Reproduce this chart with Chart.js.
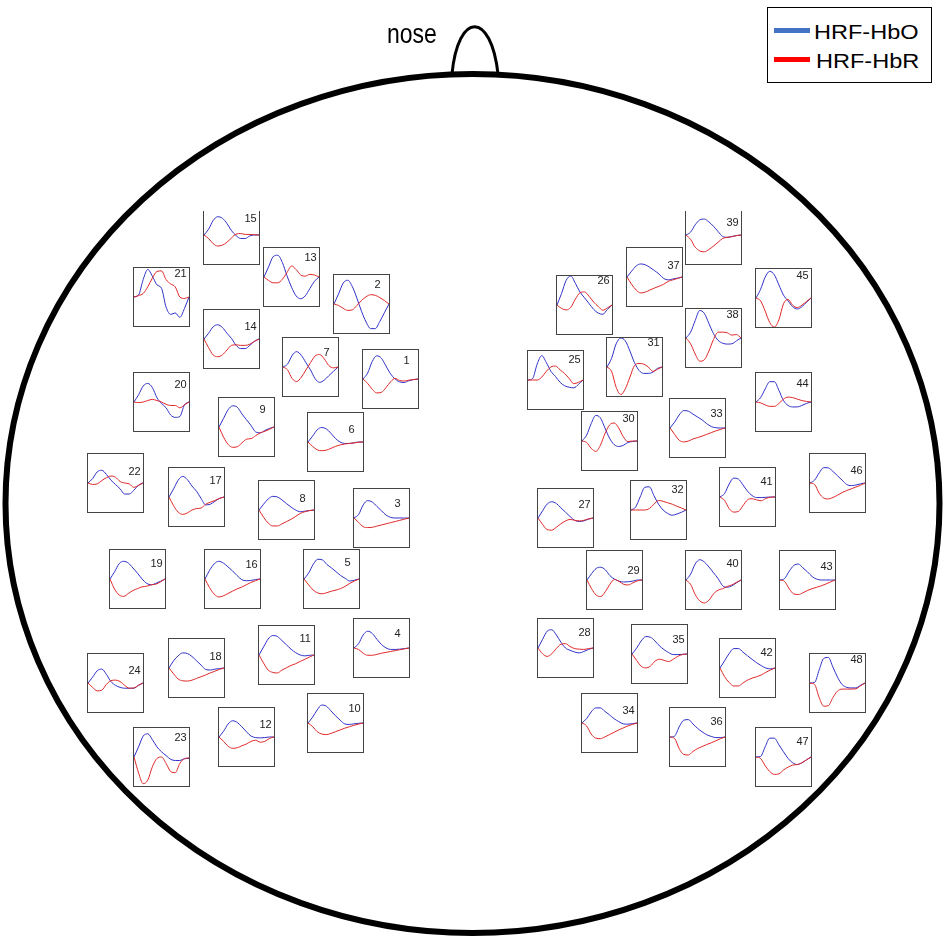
<!DOCTYPE html>
<html>
<head>
<meta charset="utf-8">
<script src="https://cdn.jsdelivr.net/npm/chart.js@4/dist/chart.umd.min.js"></script>
<style>
html,body{margin:0;padding:0;background:#fff;}
#page{position:relative;width:945px;height:945px;overflow:hidden;font-family:"Liberation Sans",Arial,sans-serif;}
#headCanvas{position:absolute;left:0;top:0;}
#boxes{position:absolute;left:0;top:0;width:945px;height:945px;clip-path:inset(211.5px 0 0 0);}
.box{position:absolute;width:57px;height:60px;box-sizing:border-box;border:1px solid #444;}
.box canvas{display:block;}
.lab{position:absolute;font-size:11px;line-height:11px;color:#222;white-space:nowrap;}
#nose{position:absolute;left:387px;top:19.5px;font-size:23px;line-height:23px;color:#000;transform:scaleY(1.2);transform-origin:0 0;}
#legend{position:absolute;left:767px;top:7px;width:165px;height:76px;box-sizing:border-box;border:1px solid #000;background:#fff;}
.lgline{position:absolute;left:774px;width:36px;height:5px;}
.lgtext{position:absolute;font-size:21px;line-height:21px;color:#000;transform:scaleX(1.12);transform-origin:0 0;white-space:nowrap;}
</style>
</head>
<body>
<div id="page">
  <canvas id="headCanvas" width="945" height="945"></canvas>
  <div id="nose">nose</div>
  <div id="boxes"></div>
  <div id="legend"></div>
  <div class="lgline" style="top:27.5px;background:#4472C4;"></div>
  <div class="lgtext" style="left:814px;top:21.2px;">HRF-HbO</div>
  <div class="lgline" style="top:56.5px;background:#FF0000;"></div>
  <div class="lgtext" style="left:816px;top:49.9px;">HRF-HbR</div>
</div>
<script>
// ---------------- data ----------------
const channels = [1,2,3,4,5,6,7,8,9,10,11,12,13,14,15,16,17,18,19,20,21,22,23,24,
                  25,26,27,28,29,30,31,32,33,34,35,36,37,38,39,40,41,42,43,44,45,46,47,48];
const timeIdx = [0,1,2,3,4,5,6,7,8,9,10,11,12];
const seriesNames = ['HRF-HbO','HRF-HbR'];

const hbo = [
 [0,0.2,0.6,0.8,0.72,0.45,0.18,0.0,-0.1,-0.12,-0.06,-0.02,0],
 [0,0.35,0.72,0.82,0.6,0.2,-0.25,-0.62,-0.85,-0.85,-0.6,-0.3,0],
 [0,0.12,0.45,0.6,0.55,0.4,0.25,0.1,0.02,0,0,0,0],
 [0,0.15,0.45,0.58,0.5,0.3,0.12,0,-0.05,-0.05,-0.04,-0.02,0],
 [0,0.2,0.5,0.68,0.66,0.5,0.38,0.25,0.12,0.02,-0.07,-0.04,0],
 [0,0.2,0.42,0.5,0.45,0.3,0.12,0,-0.05,-0.05,-0.03,0,0],
 [0,0.1,0.4,0.53,0.4,0.15,-0.1,-0.4,-0.53,-0.45,-0.3,-0.15,0],
 [0,0.2,0.38,0.47,0.45,0.35,0.22,0.1,0,-0.06,-0.04,-0.02,0],
 [0,0.3,0.6,0.73,0.68,0.45,0.25,0.05,-0.17,-0.2,-0.12,-0.05,0],
 [0,0.2,0.45,0.62,0.58,0.42,0.25,0.1,-0.03,-0.05,-0.03,-0.01,0],
 [0,0.28,0.55,0.67,0.64,0.5,0.35,0.2,0.08,0,-0.03,-0.01,0],
 [0,0.2,0.45,0.56,0.5,0.35,0.18,0.03,-0.02,-0.03,-0.02,0,0],
 [0,0.35,0.7,0.75,0.5,0.05,-0.35,-0.65,-0.75,-0.65,-0.4,-0.15,0],
 [0,0.2,0.42,0.49,0.4,0.2,0.02,-0.22,-0.33,-0.33,-0.22,-0.08,0],
 [0,0.2,0.5,0.63,0.58,0.4,0.15,-0.02,-0.12,-0.12,-0.03,0,0],
 [0,0.3,0.52,0.61,0.55,0.42,0.28,0.12,-0.02,-0.06,-0.05,-0.02,0],
 [0,0.28,0.58,0.71,0.6,0.38,0.2,-0.05,-0.27,-0.25,-0.15,-0.05,0],
 [0,0.25,0.42,0.52,0.5,0.4,0.25,0.1,-0.05,-0.07,-0.04,-0.02,0],
 [0,0.25,0.53,0.61,0.55,0.38,0.2,0,-0.15,-0.2,-0.15,-0.08,0],
 [0,0.25,0.55,0.64,0.5,0.15,-0.05,-0.2,-0.45,-0.53,-0.5,-0.1,0],
 [0,0.07,0.6,0.95,0.72,0.42,0.3,-0.35,-0.6,-0.55,-0.7,-0.4,0],
 [0,0.15,0.38,0.44,0.3,0.1,-0.05,-0.2,-0.38,-0.38,-0.25,-0.08,0],
 [0,0.35,0.72,0.8,0.6,0.35,0.18,0.05,-0.08,-0.12,-0.12,-0.06,-0.05],
 [0,0.2,0.42,0.48,0.3,0.05,-0.08,-0.15,-0.18,-0.18,-0.18,-0.08,0],
 [0,0.05,0.55,0.84,0.6,0.3,0.12,-0.08,-0.2,-0.25,-0.27,-0.15,0],
 [0,0.4,0.85,1.0,0.75,0.45,0.25,0.05,-0.15,-0.28,-0.32,-0.15,0],
 [0,0.25,0.48,0.56,0.5,0.35,0.2,0.05,-0.08,-0.12,-0.1,-0.04,0],
 [0,0.3,0.58,0.63,0.45,0.2,0,-0.08,-0.14,-0.17,-0.12,-0.05,0],
 [0,0.22,0.4,0.44,0.35,0.15,0.03,-0.04,-0.07,-0.06,-0.04,0,0],
 [0,0.2,0.6,0.88,0.8,0.45,0.1,-0.12,-0.19,-0.15,-0.05,-0.02,0],
 [0,0.3,0.8,1.0,0.9,0.55,0.15,-0.12,-0.22,-0.22,-0.18,-0.05,0],
 [0,0.1,0.45,0.78,0.8,0.5,0.2,0,-0.12,-0.18,-0.14,-0.08,0],
 [0,0.2,0.45,0.6,0.58,0.48,0.38,0.28,0.15,0.05,0.01,0,0],
 [0,0.15,0.38,0.52,0.52,0.4,0.28,0.15,0.05,-0.03,-0.04,-0.02,0],
 [0,0.2,0.45,0.6,0.58,0.45,0.28,0.15,0.05,-0.02,-0.02,-0.01,0],
 [0,0.03,0.35,0.58,0.6,0.45,0.3,0.18,0.08,0.02,-0.02,-0.02,0],
 [0,0.2,0.38,0.45,0.42,0.33,0.22,0.1,-0.05,-0.1,-0.07,-0.04,0],
 [0,0.2,0.6,0.95,0.85,0.5,0.15,-0.08,-0.18,-0.21,-0.2,-0.1,0],
 [0,0.1,0.35,0.52,0.55,0.45,0.3,0.12,-0.05,-0.08,-0.05,-0.02,0],
 [0,0.2,0.55,0.7,0.62,0.45,0.25,0.05,-0.2,-0.25,-0.2,-0.1,0],
 [0,0.12,0.45,0.65,0.62,0.42,0.2,0.05,-0.02,-0.02,-0.01,0,0],
 [0,0.25,0.5,0.67,0.67,0.55,0.42,0.3,0.18,0.08,0,-0.03,0],
 [0,0.05,0.3,0.5,0.55,0.42,0.28,0.12,0.03,0,0,0,0],
 [0,0.15,0.45,0.7,0.7,0.4,0.05,-0.12,-0.17,-0.17,-0.12,-0.05,0],
 [0,0.3,0.72,0.92,0.8,0.45,0.1,-0.1,-0.3,-0.38,-0.3,-0.15,0],
 [0,0.1,0.35,0.53,0.52,0.4,0.25,0.1,-0.05,-0.09,-0.07,-0.03,0],
 [0,0.02,0.35,0.65,0.65,0.42,0.18,-0.05,-0.2,-0.26,-0.2,-0.1,0],
 [0,0.02,0.45,0.85,0.88,0.55,0.2,-0.05,-0.15,-0.17,-0.17,-0.08,0]
];

const hbr = [
 [0,-0.15,-0.35,-0.48,-0.46,-0.3,-0.1,0.02,-0.05,-0.07,-0.04,-0.02,0],
 [0,-0.05,-0.15,-0.22,-0.2,-0.05,0.12,0.25,0.32,0.3,0.22,0.12,0],
 [0,-0.15,-0.3,-0.33,-0.32,-0.28,-0.24,-0.2,-0.16,-0.12,-0.08,-0.04,0],
 [0,-0.05,-0.18,-0.25,-0.25,-0.22,-0.18,-0.15,-0.12,-0.09,-0.06,-0.03,0],
 [0,-0.2,-0.38,-0.48,-0.51,-0.47,-0.42,-0.38,-0.33,-0.25,-0.15,-0.07,0],
 [0,-0.15,-0.27,-0.3,-0.28,-0.22,-0.15,-0.1,-0.07,-0.05,-0.03,-0.01,0],
 [0,-0.1,-0.4,-0.5,-0.35,-0.1,0.15,0.38,0.43,0.28,0.05,-0.03,0],
 [0,-0.25,-0.45,-0.55,-0.55,-0.48,-0.4,-0.32,-0.22,-0.12,-0.06,-0.02,0],
 [0,-0.35,-0.6,-0.7,-0.68,-0.55,-0.42,-0.4,-0.3,-0.2,-0.15,-0.08,0],
 [0,-0.12,-0.3,-0.38,-0.4,-0.36,-0.3,-0.24,-0.18,-0.13,-0.08,-0.04,0],
 [0,-0.28,-0.52,-0.6,-0.62,-0.52,-0.44,-0.36,-0.3,-0.22,-0.15,-0.07,0],
 [0,-0.15,-0.32,-0.39,-0.37,-0.3,-0.24,-0.15,-0.11,-0.18,-0.15,-0.05,0],
 [0,-0.12,-0.2,-0.2,-0.08,0.15,0.38,0.26,0.07,0.03,0.09,0.07,0],
 [0,-0.3,-0.55,-0.61,-0.55,-0.38,-0.22,-0.2,-0.22,-0.22,-0.18,-0.08,0],
 [0,-0.12,-0.3,-0.38,-0.35,-0.25,-0.1,0.03,0.05,0.02,0.02,0.01,0],
 [0,-0.3,-0.52,-0.62,-0.58,-0.5,-0.42,-0.34,-0.28,-0.2,-0.12,-0.06,0],
 [0,-0.3,-0.52,-0.6,-0.55,-0.45,-0.4,-0.38,-0.25,-0.18,-0.12,-0.05,0],
 [0,-0.2,-0.38,-0.44,-0.45,-0.42,-0.36,-0.3,-0.24,-0.17,-0.11,-0.05,0],
 [0,-0.35,-0.55,-0.6,-0.5,-0.4,-0.33,-0.27,-0.25,-0.2,-0.18,-0.1,0],
 [0,-0.02,0,0.05,0.09,0.05,0,-0.08,-0.12,-0.12,-0.2,-0.1,0],
 [0,0.05,0.12,0.35,0.65,0.88,0.9,0.6,0.45,0.35,0,-0.05,0],
 [0,-0.05,-0.03,0.08,0.18,0.24,0.2,0.05,0,-0.03,-0.15,-0.08,0],
 [0,-0.55,-0.92,-0.8,-0.34,-0.05,0,-0.22,-0.5,-0.54,-0.22,-0.06,-0.03],
 [0,-0.15,-0.27,-0.25,-0.05,0.08,0.1,0.05,-0.08,-0.18,-0.17,-0.08,0],
 [0,0,0,0.1,0.3,0.45,0.48,0.35,0.22,0.05,-0.13,-0.08,0],
 [0,-0.12,-0.17,-0.08,0.2,0.42,0.45,0.3,0.1,-0.05,-0.18,-0.1,0],
 [0,-0.22,-0.4,-0.42,-0.32,-0.2,-0.1,-0.05,-0.08,-0.1,-0.08,-0.03,0],
 [0,-0.2,-0.29,-0.2,-0.02,0.13,0.15,0.05,-0.02,-0.04,-0.05,-0.02,0],
 [0,-0.3,-0.52,-0.57,-0.4,-0.15,0.02,-0.05,-0.15,-0.17,-0.1,-0.03,0],
 [0,-0.05,-0.25,-0.36,-0.15,0.25,0.55,0.62,0.45,0.15,-0.02,0,0],
 [0,-0.15,-0.7,-0.95,-0.75,-0.35,0.05,0.12,0.1,0,-0.15,-0.08,0],
 [0,0,0,0,0.05,0.2,0.33,0.3,0.25,0.2,0.13,0.07,0],
 [0,-0.22,-0.42,-0.48,-0.45,-0.38,-0.33,-0.28,-0.22,-0.16,-0.1,-0.05,0],
 [0,-0.1,-0.38,-0.52,-0.54,-0.48,-0.4,-0.32,-0.24,-0.17,-0.1,-0.05,0],
 [0,-0.22,-0.42,-0.48,-0.42,-0.25,-0.18,-0.22,-0.26,-0.18,-0.08,-0.02,0],
 [0,-0.05,-0.4,-0.6,-0.62,-0.5,-0.4,-0.33,-0.26,-0.2,-0.13,-0.06,0],
 [0,-0.25,-0.45,-0.55,-0.52,-0.45,-0.38,-0.32,-0.25,-0.15,-0.1,-0.05,0],
 [0,-0.2,-0.55,-0.8,-0.75,-0.45,-0.05,0.2,0.2,0.18,0.1,0.12,0],
 [0,-0.15,-0.42,-0.55,-0.58,-0.5,-0.38,-0.25,-0.12,-0.08,-0.06,-0.02,0],
 [0,-0.15,-0.5,-0.72,-0.79,-0.7,-0.48,-0.35,-0.3,-0.22,-0.17,-0.08,0],
 [0,-0.12,-0.4,-0.52,-0.5,-0.3,-0.1,-0.06,-0.1,-0.13,-0.05,-0.01,0],
 [0,-0.3,-0.5,-0.62,-0.62,-0.52,-0.42,-0.35,-0.3,-0.24,-0.15,-0.07,0],
 [0,-0.05,-0.3,-0.48,-0.5,-0.44,-0.36,-0.3,-0.25,-0.2,-0.14,-0.07,0],
 [0,-0.03,-0.1,-0.15,-0.15,-0.05,0.1,0.17,0.15,0.1,0.05,0.02,0],
 [0,-0.1,-0.45,-0.85,-1.0,-0.75,-0.2,-0.05,-0.25,-0.33,-0.25,-0.12,0],
 [0,-0.05,-0.35,-0.52,-0.55,-0.5,-0.42,-0.33,-0.26,-0.2,-0.14,-0.08,0],
 [0,-0.05,-0.3,-0.5,-0.6,-0.58,-0.45,-0.35,-0.28,-0.26,-0.2,-0.1,0],
 [0,-0.05,-0.5,-0.8,-0.78,-0.5,-0.28,-0.21,-0.21,-0.21,-0.2,-0.1,0]
];

// ---------------- layout (montage positions on the head, px) ----------------
const boxPos = [
 [362,349],[333,274],[353,488],[353,618],[303,549],[307,412],[282,337],[258,480],
 [218,397],[307,693],[258,625],[218,707],[263,247],[203,309],[203,205],[204,549],
 [168,467],[168,638],[109,549],[133,372],[133,267],[87,453],[133,727],[87,653],
 [527,350],[556,275],[537,488],[537,618],[586,550],[581,411],[606,337],[630,480],
 [669,398],[581,693],[631,624],[669,707],[626,247],[685,308],[685,205],[685,550],
 [719,467],[719,638],[779,550],[755,372],[755,268],[809,453],[755,727],[809,653]
];
const labelDy = [
 7.5,6,11.5,11.5,9,13.5,11,14,8.5,11.5,9.5,13.5,6.5,13,9.5,11.5,9.5,14,10.5,8.5,2.5,14.5,6.5,13,
 5,1,12.5,10,16,3.5,1,5.5,11.5,13.5,11.5,10.5,14.5,2.5,13,9.5,10.5,10,12.5,7.5,3,13.5,10.5,2.5
];
const HEAD = {cx:472.5, cy:503.5, rx:467, ry:429.5, lw:6};
const NOSE = {x0:452, x1:498, base:74, cp1x:458, cp2x:491, cpy:11, lw:3};
const BOX_W = 57, BOX_H = 60;
const COLOR_HBO = '#3030c8', COLOR_HBR = '#e02828';

// ---------------- head outline (main chart) ----------------
const headPlugin = {
  id: 'headOutline',
  afterDraw(chart) {
    const xs = chart.scales.x, ys = chart.scales.y, ctx = chart.ctx;
    const X = v => xs.getPixelForValue(v), Y = v => ys.getPixelForValue(v);
    ctx.save();
    ctx.strokeStyle = '#000';
    ctx.lineWidth = HEAD.lw;
    ctx.beginPath();
    ctx.ellipse(X(HEAD.cx), Y(HEAD.cy), Math.abs(X(HEAD.cx + HEAD.rx) - X(HEAD.cx)),
                Math.abs(Y(HEAD.cy + HEAD.ry) - Y(HEAD.cy)), 0, 0, Math.PI * 2);
    ctx.stroke();
    ctx.lineWidth = NOSE.lw;
    ctx.beginPath();
    ctx.moveTo(X(NOSE.x0), Y(NOSE.base));
    ctx.bezierCurveTo(X(NOSE.cp1x), Y(NOSE.cpy), X(NOSE.cp2x), Y(NOSE.cpy), X(NOSE.x1), Y(NOSE.base));
    ctx.stroke();
    ctx.restore();
  }
};
new Chart(document.getElementById('headCanvas'), {
  type: 'scatter',
  data: { datasets: [] },
  options: {
    responsive: false, animation: false, devicePixelRatio: 1,
    layout: { padding: 0 },
    plugins: { legend: { display: false }, tooltip: { enabled: false } },
    scales: {
      x: { type: 'linear', min: 0, max: 945, display: false },
      y: { type: 'linear', min: 0, max: 945, reverse: true, display: false }
    }
  },
  plugins: [headPlugin]
});

// ---------------- channel subplots ----------------
const boxesDiv = document.getElementById('boxes');
channels.forEach((ch, i) => {
  const [bx, by] = boxPos[i];
  const box = document.createElement('div');
  box.className = 'box';
  box.style.left = bx + 'px';
  box.style.top = by + 'px';
  const cv = document.createElement('canvas');
  cv.width = BOX_W - 2; cv.height = BOX_H - 2;
  box.appendChild(cv);
  boxesDiv.appendChild(box);

  const lab = document.createElement('div');
  lab.className = 'lab';
  lab.textContent = String(ch);
  lab.style.left = (bx + 41.5) + 'px';
  lab.style.top = (by + labelDy[i] - 1.4) + 'px';
  boxesDiv.appendChild(lab);

  new Chart(cv, {
    type: 'line',
    data: {
      labels: timeIdx,
      datasets: [
        { label: seriesNames[1], data: hbr[i].map((v, k) => ({x: timeIdx[k], y: v})),
          borderColor: COLOR_HBR, order: 0 },
        { label: seriesNames[0], data: hbo[i].map((v, k) => ({x: timeIdx[k], y: v})),
          borderColor: COLOR_HBO, order: 1 }
      ]
    },
    options: {
      responsive: false, animation: false, devicePixelRatio: 1,
      layout: { padding: 0 },
      elements: {
        point: { radius: 0 },
        line: { borderWidth: 1, cubicInterpolationMode: 'monotone', fill: false }
      },
      plugins: { legend: { display: false }, tooltip: { enabled: false } },
      scales: {
        x: { type: 'linear', min: 0, max: 12, display: false },
        y: { type: 'linear', min: -1, max: 1, display: false }
      }
    }
  });
});
</script>
</body>
</html>
